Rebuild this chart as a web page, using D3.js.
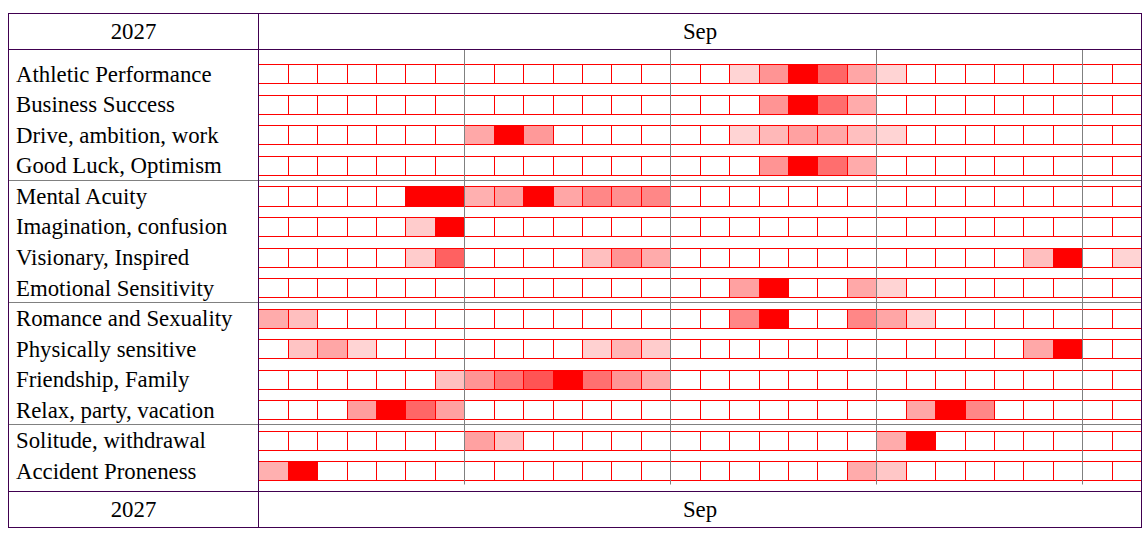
<!DOCTYPE html>
<html><head><meta charset="utf-8">
<script src="https://cdn.jsdelivr.net/npm/d3@7"></script>
<style>
html,body{margin:0;padding:0;background:#fff;}
svg{display:block;}
text{font-family:"Liberation Serif","Times New Roman",serif;fill:#000;}
</style></head>
<body>
<svg id="chart" width="1148" height="535"></svg>
<script>
// ---- data ----
const yearLabel = "2027";
const monthLabel = "Sep";
const days = [1,2,3,4,5,6,7,8,9,10,11,12,13,14,15,16,17,18,19,20,21,22,23,24,25,26,27,28,29,30];
const categories = [
  "Athletic Performance","Business Success","Drive, ambition, work","Good Luck, Optimism",
  "Mental Acuity","Imagination, confusion","Visionary, Inspired","Emotional Sensitivity",
  "Romance and Sexuality","Physically sensitive","Friendship, Family","Relax, party, vacation",
  "Solitude, withdrawal","Accident Proneness"
];
// index of last row in each group (a grey separator follows it)
const groupEnds = [3, 7, 11];
// week boundaries (after these day counts)
const weekBreaks = [7, 14, 21, 28];
// intensity (0-100) per day, one array per category
const athletic    = [0,0,0,0,0,0,0, 0,0,0,0,0,0,0, 0,0,17,42,100,60,35, 17,0,0,0,0,0,0, 0,0];
const business    = [0,0,0,0,0,0,0, 0,0,0,0,0,0,0, 0,0,0,42,100,57,33, 0,0,0,0,0,0,0, 0,0];
const drive       = [0,0,0,0,0,0,0, 34,100,40,0,0,0,0, 0,0,17,28,37,34,25, 17,0,0,0,0,0,0, 0,0];
const goodLuck    = [0,0,0,0,0,0,0, 0,0,0,0,0,0,0, 0,0,0,42,100,57,33, 0,0,0,0,0,0,0, 0,0];
const mental      = [0,0,0,0,0,100,100, 31,37,100,35,47,44,47, 0,0,0,0,0,0,0, 0,0,0,0,0,0,0, 0,0];
const imagination = [0,0,0,0,0,20,100, 0,0,0,0,0,0,0, 0,0,0,0,0,0,0, 0,0,0,0,0,0,0, 0,0];
const visionary   = [0,0,0,0,0,20,62, 0,0,0,0,25,42,33, 0,0,0,0,0,0,0, 0,0,0,0,0,25,100, 0,17];
const emotional   = [0,0,0,0,0,0,0, 0,0,0,0,0,0,0, 0,0,37,100,0,0,34, 17,0,0,0,0,0,0, 0,0];
const romance     = [33,25,0,0,0,0,0, 0,0,0,0,0,0,0, 0,0,47,100,0,0,47, 35,17,0,0,0,0,0, 0,0];
const physical    = [0,23,35,17,0,0,0, 0,0,0,0,18,29,20, 0,0,0,0,0,0,0, 0,0,0,0,0,34,100, 0,0];
const friendship  = [0,0,0,0,0,0,25, 42,54,67,100,56,42,33, 0,0,0,0,0,0,0, 0,0,0,0,0,0,0, 0,0];
const relax       = [0,0,0,38,100,60,37, 0,0,0,0,0,0,0, 0,0,0,0,0,0,0, 0,35,100,47,0,0,0, 0,0];
const solitude    = [0,0,0,0,0,0,0, 37,23,0,0,0,0,0, 0,0,0,0,0,0,0, 33,100,0,0,0,0,0, 0,0];
const accident    = [31,100,0,0,0,0,0, 0,0,0,0,0,0,0, 0,0,0,0,0,0,33, 22,0,0,0,0,0,0, 0,0];
const seriesValues = [athletic,business,drive,goodLuck,mental,imagination,visionary,emotional,
                      romance,physical,friendship,relax,solitude,accident];

// ---- layout ----
const svg = d3.select("#chart");
const L = 8.5, R = 1141.5, T = 13.5, B = 527.5;
const divX = 258.5, headB = 49.5, footT = 491.5;
const purple = "#400050";

const x = d3.scaleBand().domain(days).range([258.3, 1141.2]).padding(0);
const y = d3.scaleBand().domain(categories).range([64.3, 480.45]).paddingInner(0.378).paddingOuter(0);
const color = d3.scaleLinear().domain([0, 100]).range(["#ffffff", "#ff0000"]);
const xEdge = d => x.range()[0] + d * x.step();

// cells
const rowsG = svg.append("g");
categories.forEach((cat, i) => {
  rowsG.selectAll(null).data(seriesValues[i]).enter().append("rect")
    .attr("x", (v, j) => Math.round(x(days[j])) + 0.5)
    .attr("y", Math.round(y(cat)) + 0.5)
    .attr("width", (v, j) => Math.round(x(days[j]) + x.bandwidth()) - Math.round(x(days[j])))
    .attr("height", Math.round(y(cat) + y.bandwidth()) - Math.round(y(cat)))
    .attr("fill", v => color(v))
    .attr("stroke", "#ff0000")
    .attr("stroke-width", 1);
});

// grey week lines
svg.append("g").selectAll("line").data(weekBreaks).enter().append("line")
  .attr("x1", d => Math.round(xEdge(d)) + 0.5).attr("x2", d => Math.round(xEdge(d)) + 0.5)
  .attr("y1", headB).attr("y2", 484.5)
  .attr("stroke", "#808080").attr("stroke-width", 1);

// grey group separators
svg.append("g").selectAll("line").data(groupEnds).enter().append("line")
  .attr("x1", L).attr("x2", R)
  .attr("y1", d => Math.round(y(categories[d]) + y.bandwidth() + (y.step() - y.bandwidth()) / 2) - 0.5)
  .attr("y2", d => Math.round(y(categories[d]) + y.bandwidth() + (y.step() - y.bandwidth()) / 2) - 0.5)
  .attr("stroke", "#808080").attr("stroke-width", 1);

// table frame
const frame = svg.append("g").attr("stroke", purple).attr("stroke-width", 1).attr("fill", "none");
frame.append("rect").attr("x", L).attr("y", T).attr("width", R - L).attr("height", B - T);
frame.append("line").attr("x1", L).attr("x2", R).attr("y1", headB).attr("y2", headB);
frame.append("line").attr("x1", L).attr("x2", R).attr("y1", footT).attr("y2", footT);
frame.append("line").attr("x1", divX).attr("x2", divX).attr("y1", T).attr("y2", B);

// labels
const fs = 22.8;
svg.append("g").selectAll("text").data(categories).enter().append("text")
  .attr("x", 16).attr("y", d => y(d) + 17.4)
  .style("font-size", fs + "px").text(d => d);

// header & footer
[[39.3], [517.0]].forEach(([by]) => {
  svg.append("text").attr("x", (L + divX) / 2).attr("y", by).attr("text-anchor", "middle")
    .style("font-size", fs + "px").text(yearLabel);
  svg.append("text").attr("x", (divX + R) / 2).attr("y", by).attr("text-anchor", "middle")
    .style("font-size", fs + "px").text(monthLabel);
});
</script>
</body></html>
